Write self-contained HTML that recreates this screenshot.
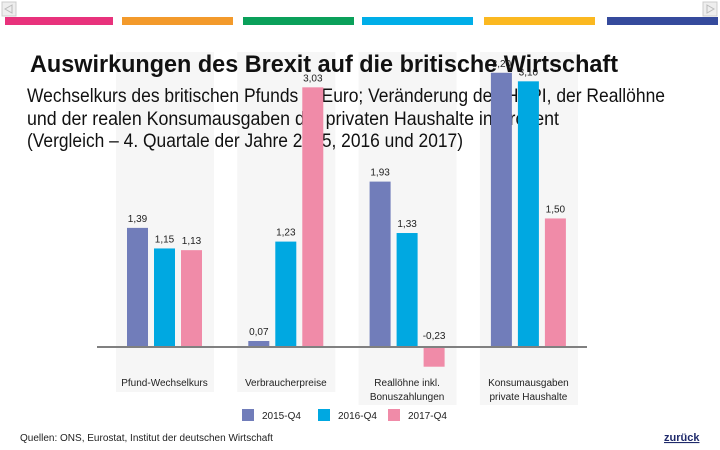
<!DOCTYPE html>
<html><head><meta charset="utf-8"><style>
html,body{margin:0;padding:0;background:#fff;width:720px;height:450px;overflow:hidden}
svg{display:block;font-family:"Liberation Sans",sans-serif}
</style></head><body>
<svg id="chart" width="720" height="450" viewBox="0 0 720 450">
  <g><rect x="2" y="2" width="14" height="14" fill="#eee" stroke="#ccc"/><path d="M12 5 L5 9 L12 13 Z" fill="none" stroke="#bbb"/></g>
  <g><rect x="703" y="2" width="14" height="14" fill="#eee" stroke="#ccc"/><path d="M707 5 L714 9 L707 13 Z" fill="none" stroke="#bbb"/></g>
  <g>
    <rect x="5" y="17" width="108" height="8" fill="#e8327c"/>
    <rect x="122" y="17" width="111" height="8" fill="#f39a2b"/>
    <rect x="243" y="17" width="111" height="8" fill="#0aa05a"/>
    <rect x="362" y="17" width="111" height="8" fill="#00aee8"/>
    <rect x="484" y="17" width="111" height="8" fill="#fbb820"/>
    <rect x="607" y="17" width="111" height="8" fill="#354a9c"/>
  </g>
  <g id="panels"></g>
  <g font-size="19" fill="#111">
    <text x="27" y="102" textLength="638" lengthAdjust="spacingAndGlyphs">Wechselkurs des britischen Pfunds in Euro; Veränderung des HVPI, der Reallöhne</text>
    <text x="27" y="125" textLength="532" lengthAdjust="spacingAndGlyphs">und der realen Konsumausgaben der privaten Haushalte in Prozent</text>
    <text x="27" y="147" textLength="436" lengthAdjust="spacingAndGlyphs">(Vergleich – 4. Quartale der Jahre 2015, 2016 und 2017)</text>
  </g>
  <g id="bars"></g>
  <line x1="97" y1="347" x2="587" y2="347" stroke="#808080" stroke-width="2"/>
  <text x="30" y="72" font-size="24" font-weight="bold" fill="#111" textLength="588" lengthAdjust="spacingAndGlyphs">Auswirkungen des Brexit auf die britische Wirtschaft</text>
  <g id="cats" font-size="10" fill="#222" text-anchor="middle"></g>
  <g id="legend" font-size="10" fill="#222"></g>
  <text x="20" y="441" font-size="10" fill="#222">Quellen: ONS, Eurostat, Institut der deutschen Wirtschaft</text>
  <text x="664" y="441" font-size="11" fill="#1f2a6b" text-decoration="underline" font-weight="bold">zurück</text>
</svg>
<script>
const categories = [["Pfund-Wechselkurs"],["Verbraucherpreise"],["Reallöhne inkl.","Bonuszahlungen"],["Konsumausgaben","private Haushalte"]];
const series = ["2015-Q4","2016-Q4","2017-Q4"];
const s2015 = [1.39, 0.07, 1.93, 3.20];
const s2016 = [1.15, 1.23, 1.33, 3.10];
const s2017 = [1.13, 3.03, -0.23, 1.50];
const colors = ["#717dba","#00a8e1","#f08ba8"];
const NS="http://www.w3.org/2000/svg";
const base=347, ppu=85.7;
const y = v => base - v*ppu;
const gx = i => 127 + i*121.3;
function mk(tag, attrs, parent){const e=document.createElementNS(NS,tag);for(const k in attrs)e.setAttribute(k,attrs[k]);parent.appendChild(e);return e;}
const panels=document.getElementById('panels'), bars=document.getElementById('bars'), cats=document.getElementById('cats'), legend=document.getElementById('legend');
const data=[s2015,s2016,s2017];
categories.forEach((c,i)=>{
  const p=mk('rect',{x:gx(i)-11,y:52,width:98,height:c.length>1?353:340,fill:"#f6f6f6"},panels);
  
  
  data.forEach((s,j)=>{
    const v=s[i], x=gx(i)+j*27;
    const r=mk('rect',{x:x,y:Math.min(y(v),base),width:21,height:Math.abs(v*ppu),fill:colors[j]},bars);
    
    
    const ty = v>=0 ? y(v)-6 : y(0)-8;
    const t=mk('text',{x:x+10.5,y:ty,'font-size':10,'text-anchor':'middle',fill:'#222'},bars);
    t.textContent=v.toFixed(2).replace('.',',');
    
    
  });
  c.forEach((line,k)=>{
    const t=mk('text',{x:gx(i)+37.5,y:386+k*14},cats);
    t.textContent=line;
    
    
  });
});
const lx=[242,318,388];
series.forEach((s,j)=>{
  const r=mk('rect',{x:lx[j],y:409,width:12,height:12,fill:colors[j]},legend);
  
  
  const t=mk('text',{x:lx[j]+20,y:419},legend);
  t.textContent=s;
  
  
});
</script>
</body></html>
